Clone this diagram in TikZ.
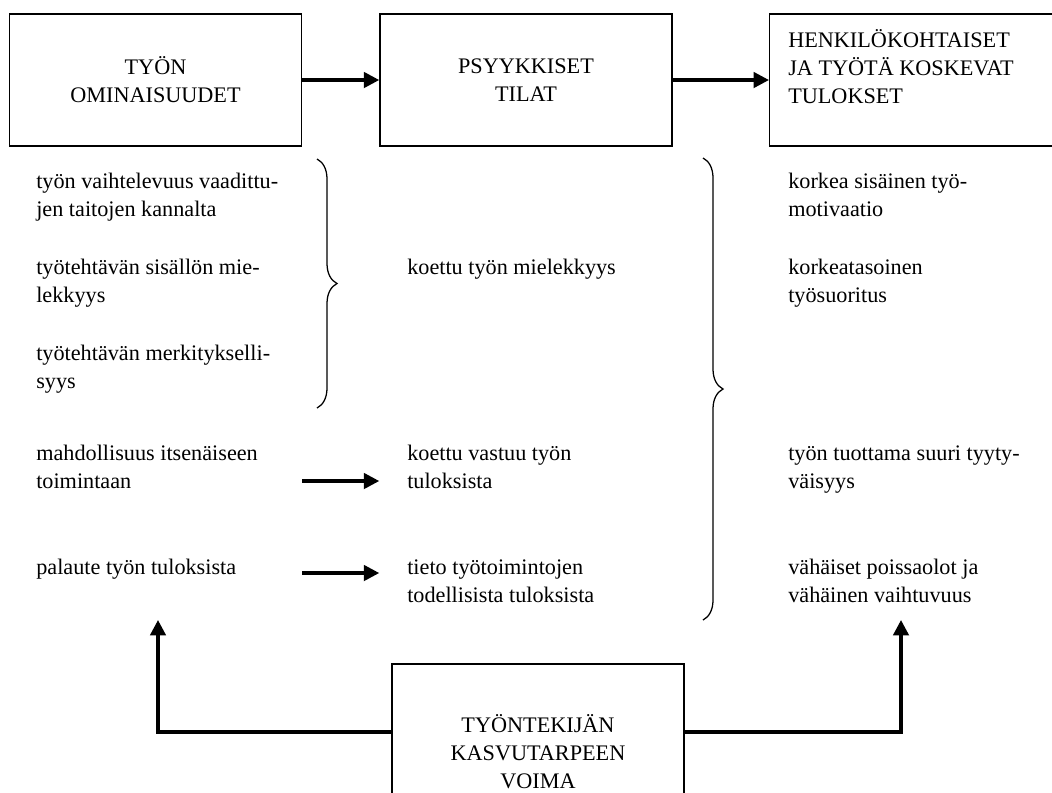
\documentclass[tikz,border=0pt]{standalone}
\usepackage{fontspec}
\setmainfont{Liberation Serif}
\usetikzlibrary{arrows.meta,decorations.pathreplacing}
\tikzstyle{block} = [rectangle, draw=black, line width=1pt, minimum width=7.3cm, minimum height=3.3cm, align=center, inner sep=0pt]
\tikzstyle{txt} = [anchor=base west, align=left, inner sep=0pt]
\tikzstyle{arrow} = [line width=2.4pt, -{Triangle[length=11pt,width=11pt]}]
\tikzstyle{brace} = [line width=0.9pt, decorate, decoration={brace, amplitude=0.5cm}]

\begin{document}
\begin{tikzpicture}[x=0.025cm, y=-0.025cm, font=\fontsize{15.8pt}{19.9pt}\selectfont]
		\useasboundingbox (0,0) rectangle (1052,792);

		% Boxes
		\node (ominais) [block] at (155.5,80) {TYÖN\\OMINAISUUDET};
		\node (tilat) [block] at (526,80) {PSYYKKISET\\TILAT};
		\node (tulokset) [block, minimum width=8cm, anchor=west] at (769,80) {};
		\node (tulokset_txt) [txt] at (788,103) {HENKILÖKOHTAISET\\JA TYÖTÄ KOSKEVAT\\TULOKSET};
		\node (kasvu) [block, minimum height=3.4cm] at (538,732) {};
		\node (kasvu_txt) [txt, anchor=base, align=center] at (538,788) {TYÖNTEKIJÄN\\KASVUTARPEEN\\VOIMA};

		% Job characteristics
		\node (vaiht) [txt] at (36,216) {työn vaihtelevuus vaadittu-\\jen taitojen kannalta};
		\node (sisalto) [txt] at (36,302) {työtehtävän sisällön mie-\\lekkyys};
		\node (merkit) [txt] at (36,388) {työtehtävän merkitykselli-\\syys};
		\node (itsen) [txt] at (36,488) {mahdollisuus itsenäiseen\\toimintaan};
		\node (palaute) [txt] at (36,574) {palaute työn tuloksista};

		% Psychological states
		\node (mielek) [txt] at (407,274) {koettu työn mielekkyys};
		\node (vastuu) [txt] at (407,488) {koettu vastuu työn\\tuloksista};
		\node (tieto) [txt] at (407,602) {tieto työtoimintojen\\todellisista tuloksista};

		% Outcomes
		\node (motiv) [txt] at (788,216) {korkea sisäinen työ-\\motivaatio};
		\node (suoritus) [txt] at (788,302) {korkeatasoinen\\työsuoritus};
		\node (tyytyv) [txt] at (788,488) {työn tuottama suuri tyyty-\\väisyys};
		\node (poissa) [txt] at (788,602) {vähäiset poissaolot ja\\vähäinen vaihtuvuus};

		% Braces
		\draw [brace] (317,159) -- (317,408);
		\draw [brace] (703,158) -- (703,620);

		% Arrows
		\coordinate (r4) at (0,481);
		\coordinate (r5) at (0,573);
		\coordinate (fb_l) at (158,620);
		\coordinate (fb_r) at (901,620);

		\draw [arrow] (ominais) -- (tilat);
		\draw [arrow] (tilat) -- (tulokset);
		\draw [arrow] (ominais.east |- r4) -- (tilat.west |- r4);
		\draw [arrow] (ominais.east |- r5) -- (tilat.west |- r5);
		\draw [arrow] (kasvu.west) -| (fb_l);
		\draw [arrow] (kasvu.east) -| (fb_r);
	\end{tikzpicture}
\end{document}
